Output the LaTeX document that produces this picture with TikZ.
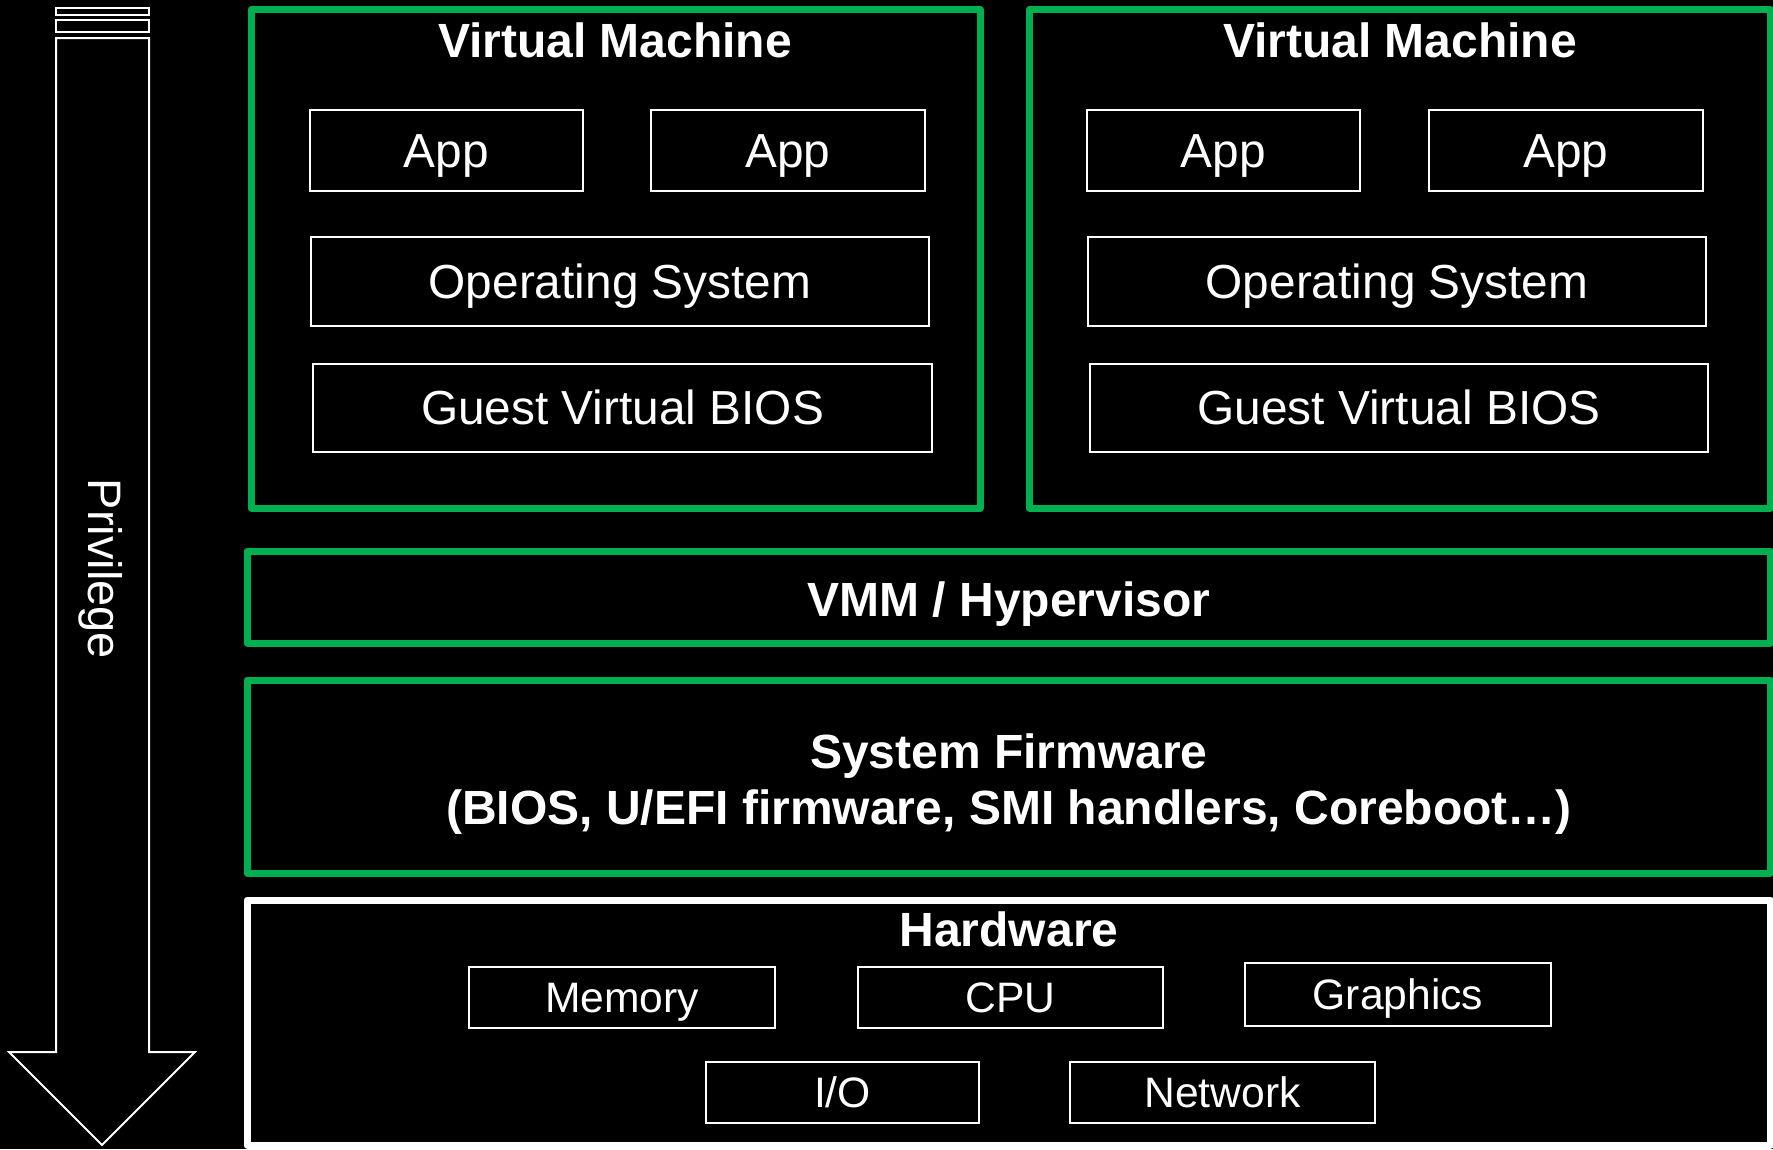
\documentclass[tikz,border=0pt]{standalone}
\usepackage{fontspec}
\setmainfont{Liberation Sans}
\definecolor{vmgreen}{HTML}{00B050}
\begin{document}
\begin{tikzpicture}[x=1pt,y=-1pt,
  greenbox/.style={draw=vmgreen, line width=7pt, line join=round, inner sep=0pt, outer sep=0pt},
  whitebig/.style={draw=white, line width=7pt, line join=round, inner sep=0pt, outer sep=0pt},
  sub/.style={draw=white, line width=2pt, inner sep=0pt, text=white, font=\fontsize{47.8}{52}\selectfont, text height=33pt, text depth=0pt},
  hw/.style={draw=white, line width=2pt, inner sep=0pt, text=white, font=\fontsize{42.6}{46}\selectfont, text height=30pt, text depth=0pt},
  title/.style={text=white, font=\bfseries\fontsize{48}{52}\selectfont, anchor=base, inner sep=0pt},
  arrowline/.style={draw=white, line width=2pt}]
\fill[black] (0,0) rectangle (1773,1149);
\useasboundingbox (0,0) rectangle (1773,1149);

% privilege arrow
\draw[arrowline] (56,8) rectangle (149,15);
\draw[arrowline] (56,20) rectangle (149,32);
\draw[arrowline] (56,38) -- (149,38) -- (149,1052) -- (195,1052) -- (102,1145) -- (9,1052) -- (56,1052) -- cycle;
\node[rotate=-90, anchor=base, text=white, inner sep=0pt, font=\fontsize{47}{50}\selectfont] (priv) at (88,569) {Privilege};

% virtual machines
\node[greenbox, minimum width=729pt, minimum height=498.5pt] (vm1) at (615.5,258.75) {};
\node[greenbox, minimum width=741pt, minimum height=498.5pt] (vm2) at (1399.5,258.75) {};
\node[title] (vm1t) at (615,57) {Virtual Machine};
\node[title] (vm2t) at (1400,57) {Virtual Machine};

\node[sub, minimum width=273pt, minimum height=81pt] (a11) at (446.5,150.5) {App};
\node[sub, minimum width=274pt, minimum height=81pt] (a12) at (788,150.5) {App};
\node[sub, minimum width=618pt, minimum height=89pt] (os1) at (620,281.5) {Operating System};
\node[sub, minimum width=619pt, minimum height=88pt] (bios1) at (622.5,408) {Guest Virtual BIOS};

\node[sub, minimum width=273pt, minimum height=81pt] (a21) at (1223.5,150.5) {App};
\node[sub, minimum width=274pt, minimum height=81pt] (a22) at (1566,150.5) {App};
\node[sub, minimum width=618pt, minimum height=89pt] (os2) at (1397,281.5) {Operating System};
\node[sub, minimum width=618pt, minimum height=88pt] (bios2) at (1399,408) {Guest Virtual BIOS};

% VMM
\node[greenbox, minimum width=1523pt, minimum height=92pt] (vmm) at (1008.5,597) {};
\node[title] (vmmt) at (1009,616) {VMM / Hypervisor};

% firmware
\node[greenbox, minimum width=1523pt, minimum height=193pt] (fw) at (1008.5,776.5) {};
\node[title] (fwt1) at (1009,768) {System Firmware};
\node[title] (fwt2) at (1009,824) {(BIOS, U/EFI firmware, SMI handlers, Coreboot…)};

% hardware
\node[whitebig, minimum width=1523pt, minimum height=245pt] (hwbox) at (1008.5,1022.5) {};
\node[title] (hwt) at (1009,946) {Hardware};
\node[hw, minimum width=306pt, minimum height=61pt] (mem) at (622,997.5) {Memory};
\node[hw, minimum width=305pt, minimum height=61pt] (cpu) at (1010.5,997.5) {CPU};
\node[hw, minimum width=306pt, minimum height=63pt] (gfx) at (1398,994.5) {Graphics};
\node[hw, minimum width=273pt, minimum height=61pt] (io) at (842.5,1092.5) {I/O};
\node[hw, minimum width=305pt, minimum height=61pt] (net) at (1222.5,1092.5) {Network};
\end{tikzpicture}
\end{document}
